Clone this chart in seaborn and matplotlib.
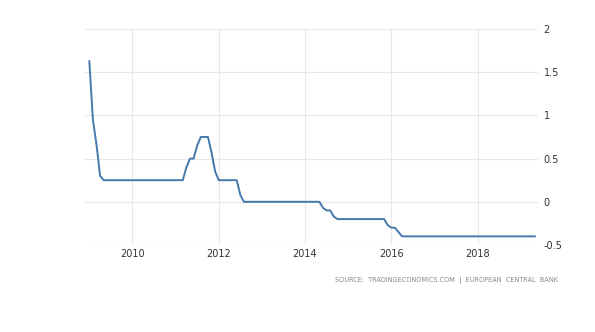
import matplotlib
matplotlib.use("Agg")
import matplotlib.pyplot as plt
import seaborn as sns
import numpy as np
import pandas as pd

# Monthly ECB deposit facility rate (monthly average), Jan 2009 - May 2019
years = list(range(2009, 2020))
rate_2009 = [1.63, 0.95, 0.66, 0.30, 0.25, 0.25, 0.25, 0.25, 0.25, 0.25, 0.25, 0.25]
rate_2010 = [0.25] * 12
rate_2011 = [0.25, 0.25, 0.25, 0.40, 0.50, 0.50, 0.65, 0.75, 0.75, 0.75, 0.57, 0.35]
rate_2012 = [0.25, 0.25, 0.25, 0.25, 0.25, 0.25, 0.08, 0.00, 0.00, 0.00, 0.00, 0.00]
rate_2013 = [0.00] * 12
rate_2014 = [0.00, 0.00, 0.00, 0.00, 0.00, -0.07, -0.10, -0.10, -0.17, -0.20, -0.20, -0.20]
rate_2015 = [-0.20] * 11 + [-0.27]
rate_2016 = [-0.30, -0.30, -0.35, -0.40, -0.40, -0.40, -0.40, -0.40, -0.40, -0.40, -0.40, -0.40]
rate_2017 = [-0.40] * 12
rate_2018 = [-0.40] * 12
rate_2019 = [-0.40] * 5
yearly = [rate_2009, rate_2010, rate_2011, rate_2012, rate_2013, rate_2014,
          rate_2015, rate_2016, rate_2017, rate_2018, rate_2019]

y_ticks = [2, 1.5, 1, 0.5, 0, -0.5]
y_tick_labels = ["2", "1.5", "1", "0.5", "0", "-0.5"]
x_ticks = [2010, 2012, 2014, 2016, 2018]
x_tick_labels = ["2010", "2012", "2014", "2016", "2018"]
source_text = "SOURCE:  TRADINGECONOMICS.COM  |  EUROPEAN  CENTRAL  BANK"

t, v = [], []
for yr, vals in zip(years, yearly):
    for m, val in enumerate(vals):
        t.append(yr + m / 12)
        v.append(val)
df = pd.DataFrame({"time": t, "rate": v})

sns.set_style("white")
plt.rcParams['font.family'] = ['DejaVu Sans']

fig = plt.figure(figsize=(5.95, 3.32), dpi=100)
ax = fig.add_axes([85 / 595, 1 - 245 / 332, (538 - 85) / 595, (245 - 29) / 332])

sns.lineplot(data=df, x="time", y="rate", ax=ax, color="#4479ad", linewidth=1.4)

ax.set_xlim(2008.9, 2019.4)
ax.set_ylim(-0.5, 2)
ax.set_xticks(x_ticks)
ax.set_xticklabels(x_tick_labels)
ax.set_yticks(y_ticks)
ax.set_yticklabels(y_tick_labels)
ax.yaxis.tick_right()
ax.tick_params(axis="both", length=0, labelsize=7, colors="#333333")
ax.tick_params(axis="y", pad=4)
ax.tick_params(axis="x", pad=3)
ax.grid(True, color="#e8e8e8", linewidth=0.8)
ax.set_axisbelow(True)
for s in ax.spines.values():
    s.set_visible(False)
ax.set_xlabel("")
ax.set_ylabel("")

fig.text(558 / 595, 1 - 281 / 332, source_text, ha="right", va="center",
         fontsize=4.7, color="#888888")

fig.savefig("out.png", dpi=100, facecolor="white")
